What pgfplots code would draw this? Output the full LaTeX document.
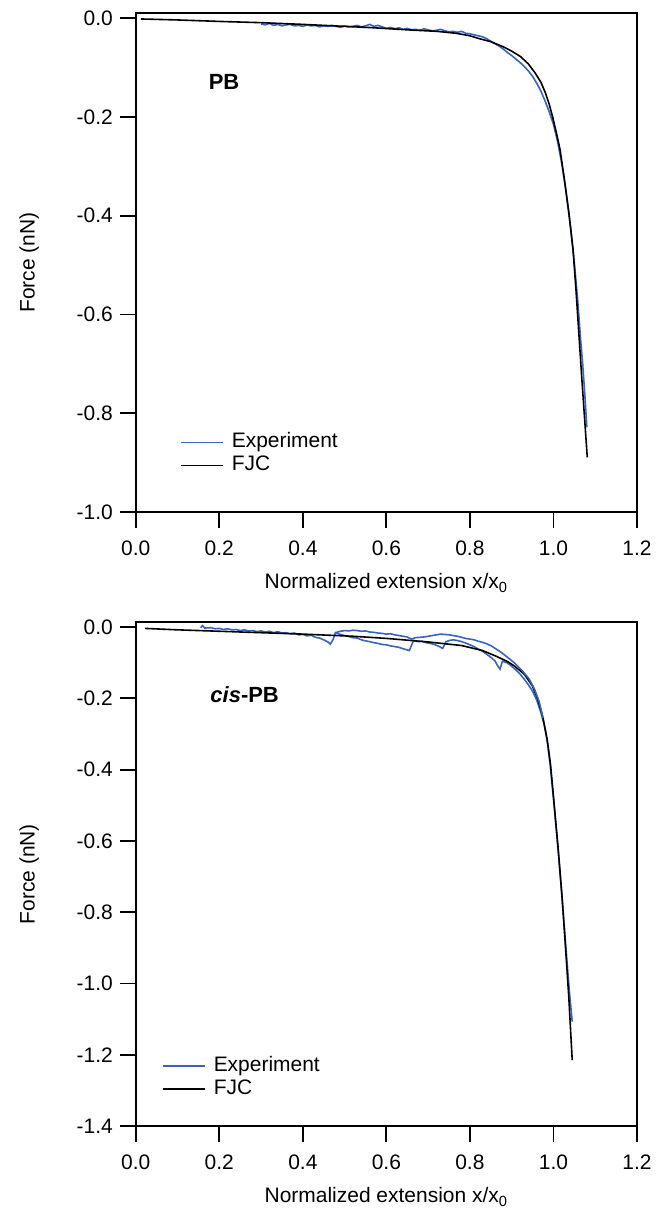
\documentclass[border=0pt]{standalone}
\usepackage{fontspec}
\setmainfont{Liberation Sans}
\usepackage{pgfplots}
\pgfplotsset{compat=1.18}
\definecolor{expblue}{RGB}{55,100,195}

\pgfplotstableread{
x y
0.300 -0.012
0.31 -0.014
0.32 -0.011
0.33 -0.015
0.34 -0.013
0.35 -0.016
0.36 -0.014
0.37 -0.013
0.38 -0.016
0.39 -0.015
0.40 -0.017
0.41 -0.014
0.42 -0.016
0.43 -0.015
0.44 -0.018
0.45 -0.016
0.46 -0.017
0.47 -0.015
0.48 -0.017
0.49 -0.019
0.50 -0.016
0.51 -0.018
0.52 -0.017
0.53 -0.015
0.54 -0.018
0.55 -0.016
0.56 -0.013
0.57 -0.017
0.58 -0.015
0.59 -0.018
0.60 -0.021
0.61 -0.019
0.62 -0.022
0.63 -0.020
0.64 -0.023
0.65 -0.021
0.66 -0.024
0.67 -0.023
0.68 -0.025
0.69 -0.022
0.70 -0.024
0.71 -0.026
0.72 -0.025
0.73 -0.023
0.74 -0.026
0.75 -0.028
0.76 -0.027
0.77 -0.029
0.78 -0.027
0.79 -0.031
0.80 -0.032
0.81 -0.034
0.82 -0.036
0.83 -0.038
0.84 -0.042
0.85 -0.047
0.86 -0.052
0.87 -0.057
0.88 -0.063
0.89 -0.070
0.90 -0.076
0.91 -0.083
0.92 -0.090
0.93 -0.098
0.94 -0.107
0.95 -0.118
0.96 -0.132
0.97 -0.148
0.98 -0.168
0.99 -0.190
1.00 -0.215
1.01 -0.250
1.02 -0.295
1.03 -0.350
1.04 -0.415
1.05 -0.495
1.058 -0.570
1.065 -0.650
1.07 -0.700
1.075 -0.760
1.08 -0.828
}\expA

\pgfplotstableread{
x y
0.012 -0.002
0.1 -0.004
0.2 -0.007
0.3 -0.0095
0.4 -0.013
0.5 -0.017
0.563 -0.0195
0.65 -0.024
0.72 -0.027
0.767 -0.031
0.80 -0.036
0.819 -0.041
0.85 -0.048
0.879 -0.058
0.90 -0.067
0.921 -0.078
0.94 -0.093
0.956 -0.111
0.97 -0.130
0.981 -0.152
0.990 -0.175
0.998 -0.200
1.007 -0.232
1.016 -0.267
1.026 -0.325
1.037 -0.395
1.047 -0.469
1.054 -0.550
1.061 -0.640
1.068 -0.730
1.075 -0.815
1.081 -0.889
}\fjcA

\pgfplotstableread{
x y
0.155 -0.002
0.16 0.004
0.165 -0.003
0.18 -0.002
0.19 -0.005
0.20 -0.004
0.21 -0.007
0.22 -0.005
0.23 -0.008
0.24 -0.007
0.25 -0.010
0.26 -0.008
0.27 -0.011
0.28 -0.010
0.29 -0.013
0.30 -0.011
0.31 -0.014
0.32 -0.012
0.33 -0.016
0.34 -0.013
0.35 -0.017
0.36 -0.016
0.37 -0.019
0.38 -0.017
0.39 -0.022
0.40 -0.021
0.41 -0.025
0.42 -0.023
0.43 -0.029
0.44 -0.031
0.45 -0.036
0.46 -0.042
0.466 -0.048
0.472 -0.036
0.478 -0.016
0.49 -0.021
0.50 -0.024
0.51 -0.027
0.52 -0.030
0.53 -0.031
0.54 -0.036
0.55 -0.039
0.56 -0.041
0.57 -0.044
0.58 -0.046
0.59 -0.049
0.60 -0.050
0.61 -0.053
0.62 -0.055
0.63 -0.057
0.64 -0.061
0.655 -0.066
0.665 -0.038
0.675 -0.041
0.685 -0.040
0.695 -0.044
0.705 -0.046
0.715 -0.049
0.725 -0.054
0.735 -0.060
0.742 -0.042
0.75 -0.038
0.76 -0.036
0.77 -0.038
0.78 -0.041
0.79 -0.045
0.80 -0.050
0.81 -0.055
0.82 -0.062
0.83 -0.068
0.84 -0.076
0.85 -0.085
0.86 -0.095
0.866 -0.108
0.872 -0.118
0.878 -0.096
0.89 -0.101
0.90 -0.110
0.91 -0.120
0.92 -0.132
0.93 -0.146
0.94 -0.162
0.95 -0.180
0.96 -0.205
0.97 -0.240
0.978 -0.275
0.985 -0.320
0.992 -0.385
1.000 -0.480
1.010 -0.610
1.020 -0.750
1.030 -0.900
1.038 -1.020
1.045 -1.107
}\expB

\pgfplotstableread{
x y
0.478 -0.016
0.49 -0.012
0.50 -0.010
0.51 -0.011
0.52 -0.009
0.53 -0.010
0.54 -0.012
0.55 -0.011
0.56 -0.014
0.57 -0.015
0.58 -0.017
0.59 -0.018
0.60 -0.020
0.61 -0.019
0.62 -0.022
0.63 -0.024
0.64 -0.026
0.65 -0.028
0.66 -0.034
0.67 -0.030
0.68 -0.029
0.69 -0.028
0.70 -0.026
0.71 -0.024
0.72 -0.022
0.73 -0.020
0.74 -0.021
0.75 -0.022
0.76 -0.024
0.77 -0.026
0.78 -0.029
0.79 -0.032
0.80 -0.034
0.81 -0.036
0.82 -0.040
0.83 -0.043
0.84 -0.047
0.85 -0.052
0.863 -0.062
0.875 -0.071
0.89 -0.085
0.906 -0.100
0.925 -0.122
0.942 -0.146
0.955 -0.175
0.966 -0.210
0.975 -0.255
}\expBb

\pgfplotstableread{
x y
0.022 -0.004
0.1 -0.008
0.2 -0.012
0.3 -0.016
0.4 -0.020
0.52 -0.026
0.6 -0.032
0.7 -0.042
0.78 -0.052
0.83 -0.066
0.863 -0.082
0.89 -0.097
0.906 -0.109
0.93 -0.132
0.949 -0.164
0.962 -0.200
0.975 -0.255
0.985 -0.315
0.993 -0.385
1.002 -0.500
1.012 -0.630
1.021 -0.762
1.029 -0.900
1.037 -1.042
1.045 -1.215
}\fjcB

\pgfplotsset{
 myaxis/.style={
  width=251pt, scale only axis,
  xmin=0, xmax=1.2, xtick={0,0.2,0.4,0.6,0.8,1.0,1.2},
  tick align=outside, xtick pos=bottom, ytick pos=left,
  major tick length=8pt,
  axis line style={line width=0.9pt},
  every tick/.style={line width=0.9pt, black},
  /pgf/number format/assume math mode=true,
  xticklabel style={yshift=-3pt, /pgf/number format/.cd, fixed, fixed zerofill, precision=1},
  yticklabel style={/pgf/number format/.cd, fixed, fixed zerofill, precision=1},
  xlabel={Normalized extension x/x\textsubscript{0}},
  xlabel style={yshift=-2pt},
  ylabel={Force (nN)},
  ylabel shift=12pt,
  font=\fontsize{10.5}{12}\selectfont,
  legend cell align=left,
  legend image code/.code={\draw[#1] (0pt,0pt) -- (21pt,0pt);},
  legend style={draw=none, fill=none, inner sep=0pt, column sep=3pt,
     nodes={inner sep=1pt, text height=7.5pt, text depth=2pt}},
  every axis plot/.append style={line width=0.8pt},
 }
}

\begin{document}
\begin{tikzpicture}
\path (-68pt,-350pt) rectangle (262.5pt,256.5pt);
\begin{axis}[myaxis, height=250pt, ymin=-1.0, ymax=0.0101,
  ytick={-1.0,-0.8,-0.6,-0.4,-0.2,0.0},
  legend style={at={(0.088,0.07)}, anchor=south west}]
\addplot[expblue, no markers] table {\expA};
\addlegendentry{Experiment}
\addplot[black, no markers] table {\fjcA};
\addlegendentry{FJC}
\node[anchor=west, font=\fontsize{11}{13}\selectfont\bfseries] at (axis cs:0.158,-0.129) {PB};
\end{axis}
\begin{axis}[myaxis, height=252.5pt, ymin=-1.4, ymax=0.014,
  at={(0,-55pt)}, anchor=north west,
  ytick={-1.4,-1.2,-1.0,-0.8,-0.6,-0.4,-0.2,0.0},
  legend style={at={(0.052,0.05)}, anchor=south west}]
\addplot[expblue, no markers] table {\expB};
\addlegendentry{Experiment}
\addplot[black, no markers] table {\fjcB};
\addlegendentry{FJC}
\addplot[expblue, no markers, forget plot] table {\expBb};
\node[anchor=west, font=\fontsize{11}{13}\selectfont\bfseries] at (axis cs:0.162,-0.19) {\textit{cis}-PB};
\end{axis}
\end{tikzpicture}
\end{document}
